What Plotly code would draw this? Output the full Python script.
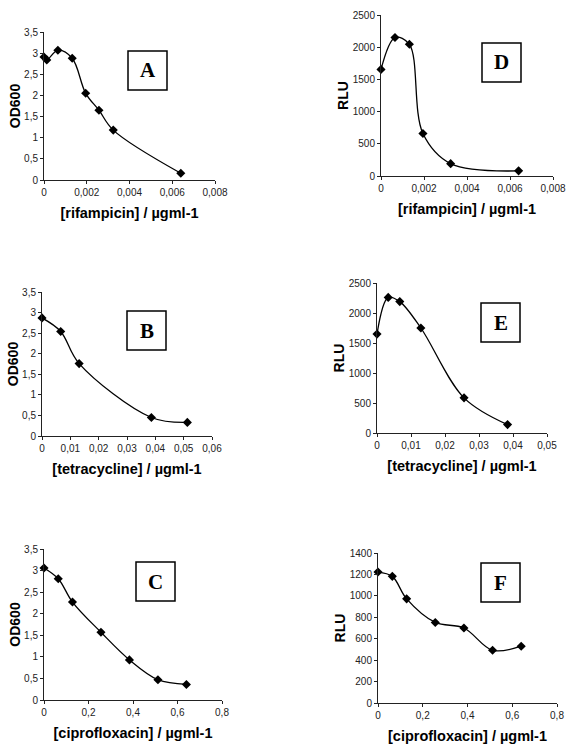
import plotly.graph_objects as go

W, H = 575, 751

# ---- data ----
rif_x_A = [0, 0.00013, 0.00065, 0.00132, 0.00195, 0.00257, 0.00324, 0.0064]
od_A = [2.91, 2.84, 3.07, 2.88, 2.05, 1.65, 1.18, 0.16]

rif_x_D = [0, 0.00065, 0.00132, 0.00195, 0.00324, 0.0064]
rlu_D = [1655, 2150, 2045, 660, 192, 80]

tet_x_B = [0, 0.0066, 0.0131, 0.0386, 0.0513]
od_B = [2.87, 2.54, 1.76, 0.45, 0.33]

tet_x_E = [0, 0.0033, 0.0067, 0.0129, 0.0256, 0.0384]
rlu_E = [1648, 2260, 2190, 1750, 586, 140]

cip_x_C = [0, 0.064, 0.128, 0.256, 0.384, 0.512, 0.64]
od_C = [3.06, 2.81, 2.27, 1.57, 0.93, 0.47, 0.36]

cip_x_F = [0, 0.064, 0.128, 0.256, 0.384, 0.512, 0.64]
rlu_F = [1222, 1182, 972, 752, 700, 492, 530]

panels = [
    (rif_x_A, od_A, "A", "[rifampicin] / µgml-1", "OD600", [0, 0.008], 0.002, [0, 3.5], 0.5, (44, 215, 32, 180), (128, 167, 51, 90)),
    (rif_x_D, rlu_D, "D", "[rifampicin] / µgml-1", "RLU", [0, 0.008], 0.002, [0, 2500], 500, (381, 553, 15, 176), (482, 521, 43, 82)),
    (tet_x_B, od_B, "B", "[tetracycline] / µgml-1", "OD600", [0, 0.06], 0.01, [0, 3.5], 0.5, (42, 212, 292, 436), (127, 166, 311, 350)),
    (tet_x_E, rlu_E, "E", "[tetracycline] / µgml-1", "RLU", [0, 0.05], 0.01, [0, 2500], 500, (377, 547, 283, 433), (481, 520, 303, 342)),
    (cip_x_C, od_C, "C", "[ciprofloxacin] / µgml-1", "OD600", [0, 0.8], 0.2, [0, 3.5], 0.5, (44, 222, 549, 700), (136, 175, 562, 601)),
    (cip_x_F, rlu_F, "F", "[ciprofloxacin] / µgml-1", "RLU", [0, 0.8], 0.2, [0, 1400], 200, (378, 557, 553, 703), (481, 520, 563, 602)),
]

fig = go.Figure()
layout = dict(
    width=W, height=H,
    margin=dict(l=0, r=0, t=0, b=0, autoexpand=False),
    paper_bgcolor="white", plot_bgcolor="white",
    showlegend=False,
    separators=", ",
    font=dict(family="Liberation Sans, Arial, sans-serif", color="black"),
)
shapes = []
annotations = []
FONT = "Liberation Sans, Arial, sans-serif"

for i, (xs, ys, letter, xt, yt, xr, dx, yr, dy, pb, lb) in enumerate(panels):
    n = "" if i == 0 else str(i + 1)
    xa, ya = "x" + n, "y" + n
    fig.add_trace(go.Scatter(
        x=xs, y=ys, xaxis=xa, yaxis=ya, mode="lines+markers",
        line=dict(color="black", width=1.3, shape="spline", smoothing=1.0),
        marker=dict(symbol="diamond", size=7, color="black"),
        cliponaxis=False,
    ))
    x0, x1, y0, y1 = pb
    layout["xaxis" + n] = dict(
        domain=[x0 / W, x1 / W], anchor=ya, range=xr, dtick=dx, tick0=0,
        automargin=False,
        showgrid=False, zeroline=False, showline=True, linecolor="#222", linewidth=1,
        ticks="outside", ticklen=3, tickcolor="#222",
        tickfont=dict(size=10, color="#222"),
        title=dict(text=xt, font=dict(size=14.5, color="black", family=FONT, weight="bold"), standoff=10),
    )
    layout["yaxis" + n] = dict(
        domain=[1 - y1 / H, 1 - y0 / H], anchor=xa, range=yr, dtick=dy, tick0=0,
        automargin=False,
        showgrid=False, zeroline=False, showline=True, linecolor="#222", linewidth=1,
        ticks="outside", ticklen=3, tickcolor="#222",
        tickfont=dict(size=10, color="#222"),
        title=dict(text=yt, font=dict(size=14, color="black", family=FONT, weight="bold"), standoff=0),
    )
    lx0, lx1, ly0, ly1 = lb
    shapes.append(dict(type="rect", xref="paper", yref="paper",
                       x0=lx0 / W, x1=lx1 / W, y0=1 - ly1 / H, y1=1 - ly0 / H,
                       line=dict(color="black", width=1.5), fillcolor="white", layer="above"))
    annotations.append(dict(text="<b>" + letter + "</b>", xref="paper", yref="paper",
                            x=(lx0 + lx1) / 2 / W, y=1 - (ly0 + ly1) / 2 / H,
                            xanchor="center", yanchor="middle", showarrow=False,
                            font=dict(family="Liberation Serif, Times New Roman, serif", size=21, color="black")))

layout["shapes"] = shapes
layout["annotations"] = annotations
fig.update_layout(**layout)
fig.write_html("out.html", config={"displayModeBar": False},
               post_script="document.body.style.margin='0';document.body.style.overflow='hidden';")
